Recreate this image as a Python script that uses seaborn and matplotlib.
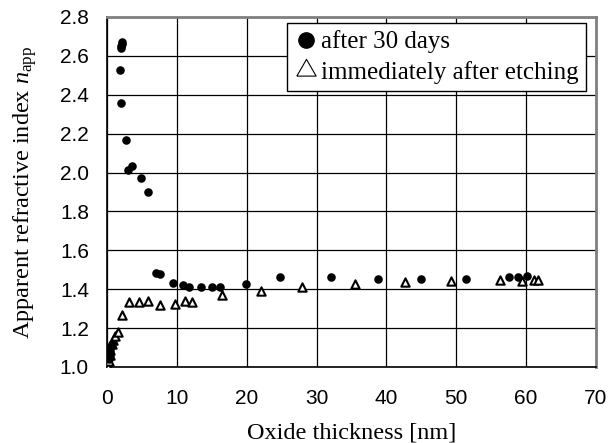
import matplotlib
matplotlib.use("Agg")
import matplotlib.pyplot as plt
import seaborn as sns
import pandas as pd
from matplotlib.lines import Line2D

# ---- data ----
after30_x = [0.3, 0.4, 0.5, 0.5, 0.7,
             1.9, 2.0, 2.05, 2.1, 2.1, 2.05, 2.7, 3.05, 3.6, 4.9, 5.9,
             7.05, 7.6, 9.4, 10.9, 11.8, 13.4, 15.1, 16.2, 19.9,
             24.8, 32.0, 38.8, 45.0, 51.4, 57.6, 58.9, 60.1]
after30_y = [1.04, 1.06, 1.08, 1.10, 1.12,
             2.53, 2.64, 2.65, 2.66, 2.67, 2.36, 2.17, 2.015, 2.035, 1.97, 1.90,
             1.485, 1.478, 1.434, 1.42, 1.414, 1.41, 1.41, 1.414, 1.427,
             1.463, 1.463, 1.455, 1.455, 1.455, 1.463, 1.463, 1.47]

immediate_x = [0.2, 0.3, 0.4, 0.5, 0.7, 0.9, 1.2, 1.6, 2.1,
               3.2, 4.6, 5.9, 7.6, 9.8, 11.2, 12.2, 16.4,
               22.1, 27.9, 35.5, 42.6, 49.3, 56.3, 59.4, 61.1, 61.7]
immediate_y = [1.00, 1.03, 1.06, 1.09, 1.12, 1.14, 1.16, 1.18, 1.27,
               1.332, 1.332, 1.34, 1.318, 1.323, 1.34, 1.332, 1.369,
               1.391, 1.41, 1.429, 1.437, 1.443, 1.448, 1.443, 1.448, 1.448]

legend_labels = ["after 30 days", "immediately after etching"]
x_label = "Oxide thickness [nm]"
y_label = r"Apparent refractive index $n_{\mathrm{app}}$"
x_ticks = [0, 10, 20, 30, 40, 50, 60, 70]
y_ticks = [1.0, 1.2, 1.4, 1.6, 1.8, 2.0, 2.2, 2.4, 2.6, 2.8]

sns.set_theme(style="white")
plt.rcParams["mathtext.fontset"] = "custom"
plt.rcParams["mathtext.rm"] = "Liberation Serif"
plt.rcParams["mathtext.it"] = "Liberation Serif:italic"
plt.rcParams["font.family"] = ["Liberation Sans", "DejaVu Sans"]
for k in ["text.color", "axes.labelcolor", "xtick.color", "ytick.color"]:
    plt.rcParams[k] = "black"

df_a = pd.DataFrame({"x": after30_x, "y": after30_y})
df_i = pd.DataFrame({"x": immediate_x, "y": immediate_y})

fig = plt.figure(figsize=(6.09, 4.43), dpi=100)
ax = fig.add_axes([107/609, 1-367/443, (596-107)/609, (367-17)/443])

ax.set_xlim(0, 70)
ax.set_ylim(1.0, 2.8)
ax.set_xticks(x_ticks)
ax.set_yticks(y_ticks)
ax.set_xticklabels([str(t) for t in x_ticks])
ax.set_yticklabels([f"{t:.1f}" for t in y_ticks])
ax.grid(True, color="black", linewidth=0.9)
ax.set_axisbelow(True)

sns.scatterplot(data=df_i, x="x", y="y", ax=ax, marker="^", s=36,
                facecolor="white", edgecolor="black", linewidth=1.5, zorder=3)
sns.scatterplot(data=df_a, x="x", y="y", ax=ax, marker="o", s=38,
                color="black", edgecolor="black", linewidth=0, zorder=4)

for side in ["left", "bottom"]:
    ax.spines[side].set_color("black")
    ax.spines[side].set_linewidth(1.2)
for side in ["top", "right"]:
    ax.spines[side].set_color("#808080")
    ax.spines[side].set_linewidth(2.0)

ax.tick_params(axis="both", length=0, labelsize=15, colors="black")
ax.tick_params(axis="x", pad=16)
ax.tick_params(axis="y", pad=13)

serif = ["Liberation Serif", "DejaVu Serif"]
ax.set_xlabel(x_label, fontsize=17.5, family=serif, labelpad=10)
ax.set_ylabel(y_label, fontsize=17.5, family=serif, labelpad=15)

tri = [(-1.0, -0.58), (1.0, -0.58), (0.0, 1.15), (-1.0, -0.58)]
handles = [
    Line2D([], [], marker="o", linestyle="none", markersize=11,
           markerfacecolor="black", markeredgecolor="black"),
    Line2D([], [], marker=tri, linestyle="none", markersize=16,
           markerfacecolor="white", markeredgecolor="black", markeredgewidth=0.8),
]
leg = ax.legend(handles, legend_labels, loc="upper right",
                bbox_to_anchor=(586/609, 1-23/443), bbox_transform=fig.transFigure,
                borderaxespad=0, frameon=True, fancybox=False, framealpha=1,
                edgecolor="black", handlelength=0.9, handletextpad=0.15,
                labelspacing=0.3, borderpad=0.3,
                prop={"family": serif, "size": 18})
leg.get_frame().set_linewidth(1.0)

fig.savefig("out.png", dpi=100)
